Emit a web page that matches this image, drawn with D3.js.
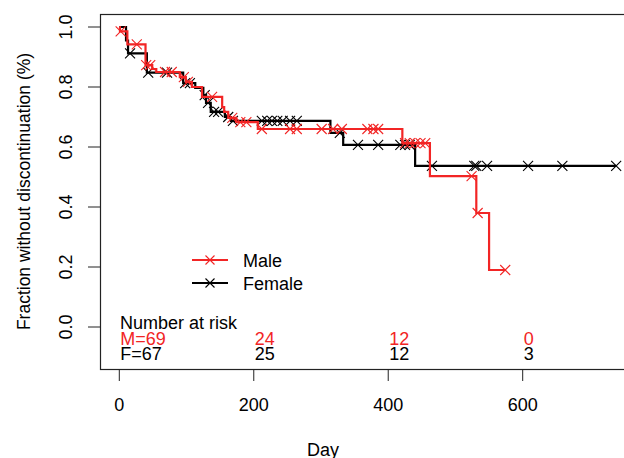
<!DOCTYPE html>
<html>
<head>
<meta charset="utf-8">
<script src="https://cdn.jsdelivr.net/npm/d3@7/dist/d3.min.js"></script>
<style>
  body { margin: 0; background: #fff; }
  svg text { font-family: Arial, "Liberation Sans", sans-serif; }
</style>
</head>
<body>
<div id="vis"></div>
<script>
// DATA ---------------------------------------------------------------------
// Kaplan-Meier steps (day, fraction after the drop)
const maleTimes   = [1, 12, 39, 49, 55, 90, 99, 108, 123, 153, 156, 162, 174, 206, 421, 462, 531, 550]
const maleSurv    = [0.9855, 0.942, 0.873, 0.86, 0.85, 0.833, 0.817, 0.80, 0.767, 0.733, 0.717, 0.697, 0.683, 0.66, 0.613, 0.503, 0.38, 0.19]
const maleCensor  = [2, 26, 40, 46, 68, 78, 96, 102, 138, 168, 180, 189, 212, 254, 264, 301, 318, 331, 369, 378, 385, 425, 432, 440, 448, 455, 524, 533, 574]

const femaleTimes  = [10, 13, 41, 95, 113, 125, 129, 136, 157, 166, 314, 333, 440]
const femaleSurv   = [0.955, 0.912, 0.848, 0.813, 0.797, 0.773, 0.747, 0.717, 0.70, 0.687, 0.647, 0.607, 0.537]
const femaleCensor = [16, 43, 71, 98, 105, 127, 132, 141, 147, 162, 169, 212, 220, 227, 235, 243, 254, 264, 328, 355, 385, 418, 425, 432, 465, 528, 531, 547, 608, 659, 739]

const xTicks = [0, 200, 400, 600]
const yTicks = [0, 0.2, 0.4, 0.6, 0.8, 1.0]

const riskTimes  = [0, 200, 400, 600]
const maleRisk   = [69, 24, 12, 0]
const femaleRisk = [67, 25, 12, 3]

const legendLabels = ["Male", "Female"]

// SETTINGS -----------------------------------------------------------------
const width = 624, height = 458
const red = "#f22525", black = "#000"
const box = { left: 100, top: 14, right: 660, bottom: 369 }

const svg = d3.select("#vis").append("svg")
  .attr("width", width)
  .attr("height", height)

const x = d3.scaleLinear().domain([0, 600]).range([119.3, 522.7])
const y = d3.scaleLinear().domain([0, 1]).range([327, 27])

// plot box
svg.append("rect")
  .attr("x", box.left + 0.5).attr("y", box.top + 0.5)
  .attr("width", box.right - box.left).attr("height", box.bottom - box.top)
  .attr("fill", "none").attr("stroke", "#222").attr("stroke-width", 1.2)

// AXES ---------------------------------------------------------------------
const xAxis = svg.append("g")
xAxis.selectAll("line").data(xTicks).enter().append("line")
  .attr("x1", d => x(d)).attr("x2", d => x(d))
  .attr("y1", box.bottom).attr("y2", box.bottom + 12)
  .attr("stroke", "#222")
xAxis.selectAll("text").data(xTicks).enter().append("text")
  .attr("x", d => x(d)).attr("y", 411)
  .attr("text-anchor", "middle").attr("font-size", 18)
  .text(d => d)

const yAxis = svg.append("g")
yAxis.selectAll("line").data(yTicks).enter().append("line")
  .attr("x1", box.left).attr("x2", box.left - 12)
  .attr("y1", d => y(d)).attr("y2", d => y(d))
  .attr("stroke", "#222")
yAxis.selectAll("text").data(yTicks).enter().append("text")
  .attr("transform", d => `translate(72,${y(d)}) rotate(-90)`)
  .attr("text-anchor", "middle").attr("font-size", 18)
  .text(d => d3.format(".1f")(d))

svg.append("text")
  .attr("x", x(300) + 2).attr("y", 456)
  .attr("text-anchor", "middle").attr("font-size", 18)
  .text("Day")

svg.append("text")
  .attr("transform", `translate(30,${(box.top + box.bottom) / 2}) rotate(-90)`)
  .attr("text-anchor", "middle").attr("font-size", 17.5)
  .text("Fraction without discontinuation (%)")

// CURVES -------------------------------------------------------------------
const survAt = (times, surv) => t => {
  const i = d3.bisectRight(times, t)
  return i === 0 ? 1 : surv[i - 1]
}

const line = d3.line()
  .x(d => x(d[0])).y(d => y(d[1]))
  .curve(d3.curveStepAfter)

const cross = (g, cx, cy, color, r = 5) => {
  g.append("path")
    .attr("d", `M${cx - r},${cy - r}L${cx + r},${cy + r}M${cx - r},${cy + r}L${cx + r},${cy - r}`)
    .attr("stroke", color).attr("stroke-width", 1.1).attr("fill", "none")
}

function drawCurve(times, surv, censor, color) {
  const end = d3.max(censor.concat(times))
  const pts = [[0, 1]].concat(times.map((t, i) => [t, surv[i]]), [[end, surv[surv.length - 1]]])
  const g = svg.append("g")
  g.append("path")
    .attr("d", line(pts))
    .attr("fill", "none").attr("stroke", color).attr("stroke-width", 2.2)
  const s = survAt(times, surv)
  censor.forEach(t => cross(g, x(t), y(s(t)), color))
}

drawCurve(femaleTimes, femaleSurv, femaleCensor, black)
drawCurve(maleTimes, maleSurv, maleCensor, red)

// LEGEND -------------------------------------------------------------------
const legend = svg.append("g")
legendLabels.forEach((lab, i) => {
  const ly = 260 + i * 23
  const col = i === 0 ? red : black
  legend.append("line")
    .attr("x1", 192).attr("x2", 228).attr("y1", ly).attr("y2", ly)
    .attr("stroke", col).attr("stroke-width", 2.2)
  cross(legend, 210, ly, col, 4.5)
  legend.append("text")
    .attr("x", 243).attr("y", ly + 7)
    .attr("font-size", 18)
    .text(lab)
})

// NUMBER AT RISK ------------------------------------------------------------
const risk = svg.append("g").attr("font-size", 18)
risk.append("text").attr("x", 120).attr("y", 329).text("Number at risk")
risk.selectAll(".m").data(maleRisk).enter().append("text")
  .attr("x", (d, i) => x(riskTimes[i]) + 1).attr("y", 345)
  .attr("fill", red)
  .text((d, i) => i === 0 ? "M=" + d : d)
risk.selectAll(".f").data(femaleRisk).enter().append("text")
  .attr("x", (d, i) => x(riskTimes[i]) + 1).attr("y", 360)
  .text((d, i) => i === 0 ? "F=" + d : d)
</script>
</body>
</html>
